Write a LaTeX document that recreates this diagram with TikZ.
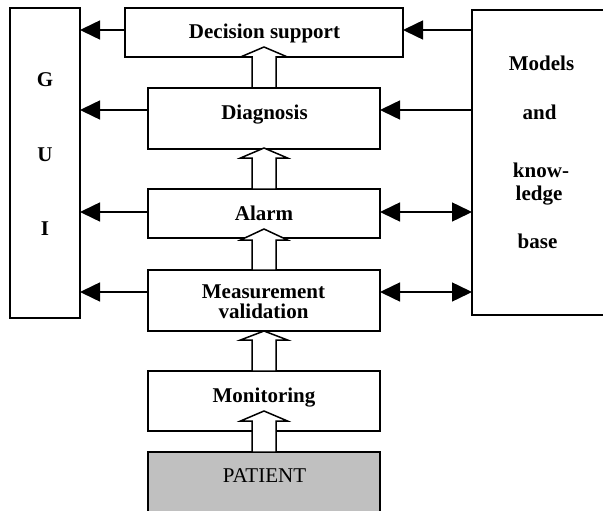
\documentclass[tikz,border=0pt]{standalone}
\usepackage{fontspec}
\setmainfont{Liberation Serif}
\usetikzlibrary{arrows.meta,calc}
\definecolor{patgray}{RGB}{192,192,192}
\tikzset{
  box/.style={draw, rectangle, line width=1.5pt, inner sep=0pt, outer sep=0pt},
  lbl/.style={anchor=base, inner sep=0pt, font=\fontsize{21}{18}\selectfont\bfseries},
  plbl/.style={anchor=base, inner sep=0pt, font=\fontsize{21}{18}\selectfont},
  arr/.style={line width=1.5pt, -{Triangle[length=20pt,width=19pt]}},
  darr/.style={line width=1.5pt, {Triangle[length=20pt,width=19pt]}-{Triangle[length=20pt,width=19pt]}},
  hollow/.style={draw, fill=white, line width=1.5pt, line join=miter},
}
\newcommand\harrow[3]{%
  \draw[hollow] ($(#1.north)+(-12,0)$) -- (252,#2) -- (240.5,#2) -- (264,#3)
    -- (287.5,#2) -- (276,#2) -- ($(#1.north)+(12,0)$) -- cycle;}
\begin{document}
\begin{tikzpicture}[x=1pt,y=-1pt]
\useasboundingbox (0,0) rectangle (603,511);
\clip (0,0) rectangle (603,511);
% boxes
\node[box, minimum width=70pt, minimum height=310pt] (gui) at (45,163) {};
\node[box, minimum width=278pt, minimum height=49pt] (dec) at (264,32.5) {};
\node[box, minimum width=232pt, minimum height=61pt] (diag) at (264,118.5) {};
\node[box, minimum width=232pt, minimum height=49pt] (alarm) at (264,213.5) {};
\node[box, minimum width=232pt, minimum height=61pt] (mv) at (264,300.5) {};
\node[box, minimum width=232pt, minimum height=60pt] (mon) at (264,401) {};
\node[box, fill=patgray, minimum width=232pt, minimum height=70pt] (pat) at (264,487) {};
\node[box, minimum width=140pt, minimum height=305pt] (kb) at (542,162.5) {};
% hollow arrows
\harrow{diag}{57}{47}
\harrow{alarm}{158}{148}
\harrow{mv}{240}{229}
\harrow{mon}{340}{331}
\harrow{pat}{421}{411}
% connectors
\draw[arr] (dec.west |- 0,30) -- (gui.east |- 0,30);
\draw[arr] (diag.west |- 0,110) -- (gui.east |- 0,110);
\draw[arr] (alarm.west |- 0,212) -- (gui.east |- 0,212);
\draw[arr] (mv.west |- 0,292) -- (gui.east |- 0,292);
\draw[arr] (kb.west |- 0,30) -- (dec.east |- 0,30);
\draw[arr] (kb.west |- 0,110) -- (diag.east |- 0,110);
\draw[darr] (alarm.east |- 0,212) -- (kb.west |- 0,212);
\draw[darr] (mv.east |- 0,292) -- (kb.west |- 0,292);
% labels
\node[lbl] (tG) at (45,87) {G};
\node[lbl] (tU) at (45,161) {U};
\node[lbl] (tI) at (45,235) {I};
\node[lbl] (tdec) at (264.5,39) {Decision support};
\node[lbl] (tdiag) at (264.5,120) {Diagnosis};
\node[lbl] (talarm) at (264,220) {Alarm};
\node[lbl] (tmv1) at (263.5,298.5) {Measurement};
\node[lbl] (tmv2) at (263.5,318.5) {validation};
\node[lbl] (tmon) at (264,402) {Monitoring};
\node[plbl] (tpat) at (264.5,482) {PATIENT};
\node[lbl] (tk1) at (541.5,71) {Models};
\node[lbl] (tk2) at (539.5,119) {and};
\node[lbl] (tk3) at (541,177) {know-};
\node[lbl] (tk4) at (539,200) {ledge};
\node[lbl] (tk5) at (537.5,248) {base};
\end{tikzpicture}
\end{document}
